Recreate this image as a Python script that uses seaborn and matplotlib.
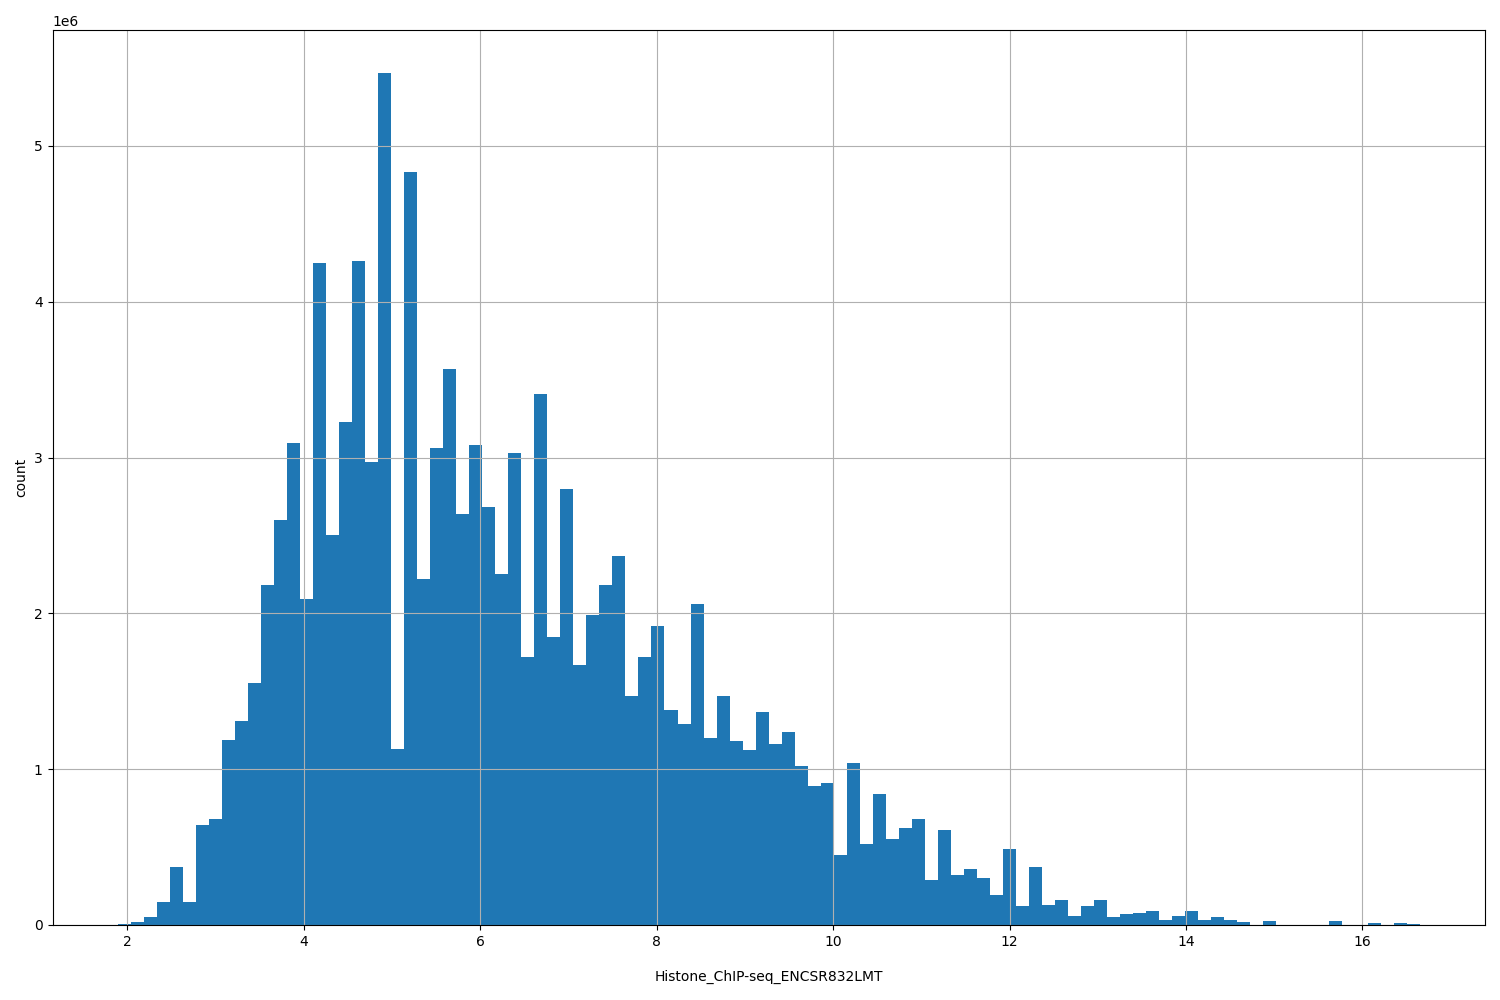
import numpy as np
import pandas as pd
import matplotlib
matplotlib.use("Agg")
import matplotlib.pyplot as plt
import seaborn as sns

x_start = 1.888
x_end = 16.65
counts_millions = [
    0.005, 0.02, 0.05, 0.15, 0.37, 0.15, 0.64, 0.68, 1.19, 1.31,
    1.55, 2.18, 2.60, 3.09, 2.09, 4.25, 2.50, 3.23, 4.26, 2.97,
    5.47, 1.13, 4.83, 2.22, 3.06, 3.57, 2.64, 3.08, 2.68, 2.25,
    3.03, 1.72, 3.41, 1.85, 2.80, 1.67, 1.99, 2.18, 2.37, 1.47,
    1.72, 1.92, 1.38, 1.29, 2.06, 1.20, 1.47, 1.18, 1.12, 1.37,
    1.16, 1.24, 1.02, 0.89, 0.91, 0.45, 1.04, 0.52, 0.84, 0.55,
    0.62, 0.68, 0.29, 0.61, 0.32, 0.36, 0.30, 0.19, 0.49, 0.12,
    0.37, 0.13, 0.16, 0.06, 0.12, 0.16, 0.05, 0.07, 0.08, 0.09,
    0.03, 0.06, 0.09, 0.03, 0.05, 0.03, 0.02, 0.0, 0.025, 0.0,
    0.0, 0.0, 0.0, 0.025, 0.0, 0.0, 0.012, 0.0, 0.012, 0.008,
]

n = len(counts_millions)
edges = np.linspace(x_start, x_end, n + 1)
df = pd.DataFrame({
    "value": (edges[:-1] + edges[1:]) / 2,
    "w": np.array(counts_millions) * 1e6,
})

fig, ax = plt.subplots(figsize=(15, 10), dpi=100)
sns.histplot(data=df, x="value", weights="w", bins=n,
             binrange=(x_start, x_end), ax=ax,
             color="#1f77b4", alpha=1.0, linewidth=0)
ax.set_xlim(1.150, 17.39)
ax.grid(True, color="#b0b0b0", linewidth=0.8)
ax.set_xlabel("Histone_ChIP-seq_ENCSR832LMT", labelpad=15)
ax.set_ylabel("count")
fig.subplots_adjust(left=0.035, right=0.99, top=0.97, bottom=0.075)
fig.savefig("out.png")
